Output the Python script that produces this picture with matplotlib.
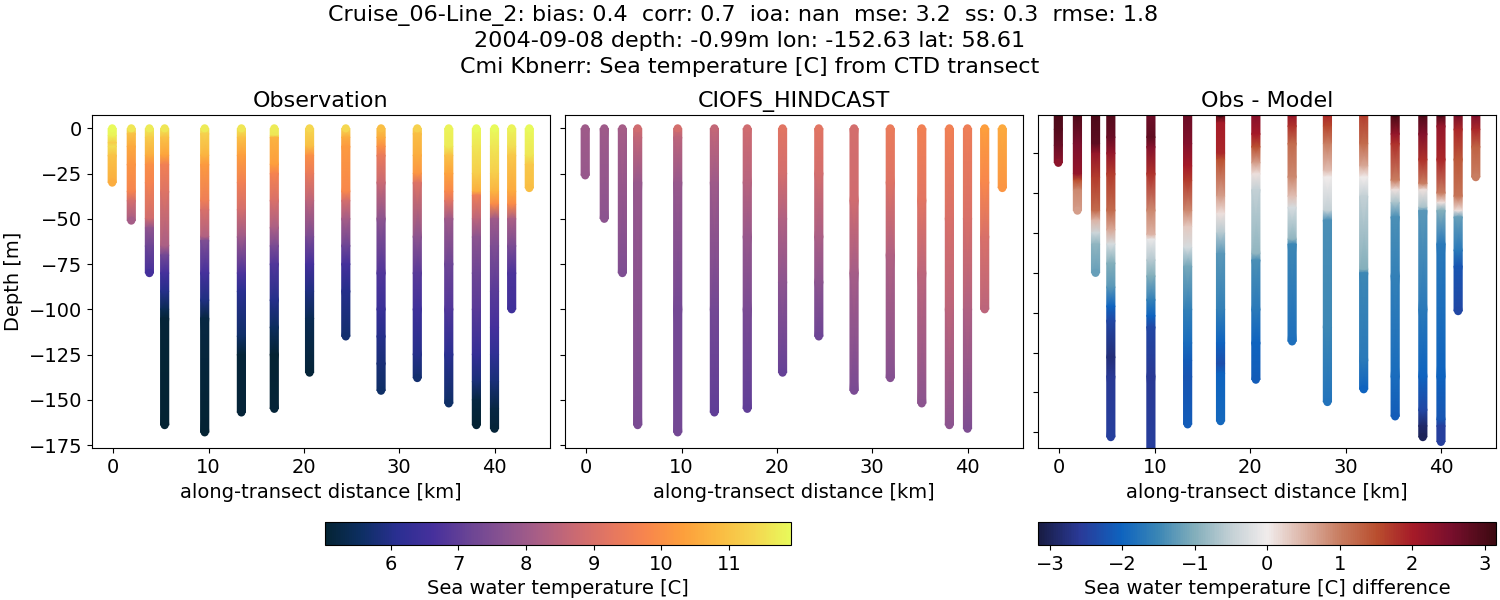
import numpy as np
import matplotlib
matplotlib.use("Agg")
from matplotlib import pyplot as plt
from matplotlib.colors import LinearSegmentedColormap, Normalize
from matplotlib.cm import ScalarMappable

# station positions along the transect [km]
station_km = [-0.1, 1.9, 3.8, 5.4, 9.6, 13.45, 16.9, 20.6, 24.4, 28.1, 31.9, 35.2, 38.1, 40.0, 41.8, 43.65]

# observation, one list per station
obs_depth = [
    [0, -4, -8, -10, -15, -30],
    [0, -3, -10, -20, -35, -40, -51],
    [0, -5, -15, -20, -30, -50, -55, -65, -80],
    [0, -5, -15, -20, -35, -65, -70, -80, -90, -100, -105, -164],
    [0, -3, -15, -20, -40, -45, -60, -62, -80, -95, -105, -168],
    [0, -5, -15, -30, -45, -60, -80, -90, -115, -125, -157],
    [0, -4, -5, -20, -25, -40, -55, -65, -75, -95, -110, -125, -155],
    [0, -10, -15, -25, -40, -60, -75, -90, -105, -135],
    [0, -5, -10, -35, -40, -50, -65, -75, -90, -115],
    [0, -5, -10, -15, -30, -50, -80, -100, -115, -130, -145],
    [0, -3, -15, -25, -30, -60, -80, -100, -125, -138],
    [0, -10, -15, -25, -35, -40, -50, -75, -100, -125, -152],
    [0, -10, -25, -35, -37, -50, -60, -80, -100, -125, -140, -150, -164],
    [0, -10, -25, -35, -42, -50, -65, -90, -110, -125, -140, -155, -166],
    [0, -10, -15, -35, -42, -50, -65, -80, -100],
    [0, -15, -20, -33],
]
obs_temp = [
    [11.9, 11.8, 11.2, 11.5, 11.0, 10.6],
    [11.6, 11.0, 10.5, 10.1, 9.7, 8.9, 8.1],
    [11.7, 11.2, 10.6, 10.0, 9.7, 8.8, 7.8, 7.2, 6.6],
    [11.6, 11.0, 10.4, 9.6, 9.1, 8.2, 7.3, 6.6, 6.0, 5.4, 5.1, 5.0],
    [11.7, 11.3, 10.7, 10.2, 9.5, 9.0, 8.3, 7.5, 6.6, 5.9, 5.2, 5.0],
    [11.6, 11.0, 10.3, 9.6, 8.9, 8.0, 6.7, 6.1, 5.6, 5.1, 5.1],
    [11.7, 11.6, 10.7, 10.3, 9.7, 9.0, 8.2, 7.4, 6.8, 6.0, 5.5, 5.05, 5.1],
    [11.4, 10.9, 10.0, 9.4, 8.5, 7.4, 6.6, 5.9, 5.4, 5.1],
    [11.4, 10.6, 10.2, 9.8, 8.9, 8.1, 7.2, 6.6, 6.0, 5.7],
    [10.9, 10.6, 10.0, 9.4, 8.7, 7.7, 6.8, 6.4, 6.0, 5.8, 5.6],
    [11.3, 10.9, 10.6, 10.1, 9.1, 7.7, 6.9, 6.5, 6.0, 5.7],
    [11.8, 11.7, 11.0, 10.4, 9.8, 9.2, 8.0, 7.2, 6.8, 6.1, 5.6],
    [11.9, 11.6, 11.2, 10.6, 9.5, 8.5, 7.7, 7.2, 6.9, 6.3, 5.8, 5.2, 5.0],
    [11.9, 11.6, 11.2, 10.7, 9.9, 8.0, 7.5, 6.9, 6.6, 6.2, 5.8, 5.2, 5.1],
    [11.8, 11.5, 11.1, 10.5, 9.9, 8.2, 7.4, 6.7, 6.5],
    [11.9, 11.6, 11.1, 10.9],
]

# model
model_depth = [
    [0, -26],
    [0, -50],
    [0, -80],
    [0, -5, -30, -164],
    [0, -5, -30, -100, -168],
    [0, -30, -100, -157],
    [0, -30, -60, -100, -155],
    [0, -25, -50, -85, -135],
    [0, -25, -60, -85, -115],
    [0, -40, -80, -145],
    [0, -30, -70, -138],
    [0, -40, -80, -152],
    [0, -50, -100, -164],
    [0, -50, -100, -166],
    [0, -30, -60, -100],
    [0, -33],
]
model_temp = [
    [8.0, 7.9],
    [8.0, 7.7],
    [8.1, 7.5],
    [8.8, 8.6, 7.9, 7.4],
    [8.9, 8.5, 7.9, 7.3, 7.3],
    [8.6, 8.0, 7.3, 7.0],
    [8.8, 8.4, 7.9, 7.4, 7.0],
    [9.2, 8.9, 8.3, 7.7, 7.1],
    [9.2, 8.9, 8.2, 7.7, 7.2],
    [8.9, 8.8, 8.1, 7.4],
    [9.4, 9.1, 8.3, 7.6],
    [9.6, 9.2, 8.5, 7.7],
    [9.6, 9.0, 8.5, 7.7],
    [9.5, 9.0, 8.3, 7.5],
    [10.3, 9.8, 9.0, 8.5],
    [10.5, 10.1],
]

# difference
diff_depth = [
    [0, -10, -20, -31],
    [0, -19, -38, -42, -48, -61],
    [0, -19, -25, -40, -61, -67, -75, -82, -100],
    [0, -15, -25, -38, -61, -73, -82, -94, -109, -121, -130, -153, -165, -203],
    [0, -15, -21, -38, -61, -76, -79, -92, -102, -117, -127, -134, -165, -215],
    [0, -19, -33, -42, -61, -71, -84, -96, -123, -144, -155, -165, -195],
    [0, -6, -25, -29, -52, -63, -75, -88, -123, -144, -157, -163, -193],
    [0, -13, -21, -31, -38, -48, -88, -92, -123, -144, -167],
    [0, -8, -19, -40, -52, -59, -79, -82, -143],
    [0, -8, -19, -36, -40, -61, -67, -134, -181],
    [0, -19, -33, -40, -52, -98, -100, -155, -173],
    [0, -13, -19, -42, -48, -56, -65, -102, -165, -190],
    [0, -13, -29, -44, -48, -59, -61, -123, -165, -186, -196, -203],
    [0, -8, -29, -50, -56, -61, -82, -165, -192, -196, -206],
    [0, -10, -29, -52, -61, -65, -86, -96, -124],
    [0, -10, -21, -40],
]
diff_temp = [
    [3.0, 2.9, 2.7, 2.3],
    [3.0, 2.5, 2.2, 1.5, 0.9, 0.7],
    [3.0, 2.8, 2.2, 1.7, 1.2, 0.5, -0.4, -0.9, -1.2],
    [2.9, 2.7, 2.2, 1.7, 1.2, 0.6, -0.3, -1.0, -1.3, -2.0, -2.4, -2.8, -2.6, -2.5],
    [2.6, 2.8, 2.4, 1.8, 0.9, 0.5, -0.1, -0.6, -1.0, -1.6, -2.0, -2.4, -2.6, -2.5],
    [2.7, 2.4, 2.0, 1.7, 0.9, 0.3, -0.3, -1.1, -1.6, -1.9, -2.1, -2.2, -2.1],
    [3.1, 2.0, 1.9, 1.5, 0.7, 0.1, -0.6, -1.3, -1.6, -2.0, -2.3, -2.0, -1.95],
    [2.4, 2.0, 1.5, 0.7, 0.1, -0.5, -0.9, -1.4, -1.7, -2.0, -2.1],
    [2.2, 1.8, 1.2, 0.9, 0.4, -0.3, -0.9, -1.5, -1.85],
    [1.9, 1.6, 1.0, 0.4, 0.0, -0.5, -1.4, -1.5, -1.8],
    [1.7, 1.2, 0.6, 0.0, -0.5, -1.0, -1.5, -1.7, -2.0],
    [3.1, 2.2, 1.8, 1.0, 0.1, -0.7, -1.4, -1.6, -1.9, -2.1],
    [3.0, 2.4, 1.8, 1.0, 0.1, -0.7, -1.3, -1.7, -2.0, -2.4, -2.9, -3.0],
    [3.0, 2.2, 1.9, 1.0, 0.1, -1.0, -1.7, -2.0, -2.2, -2.5, -2.5],
    [2.6, 1.9, 1.4, 1.1, 0.1, -1.2, -1.7, -2.2, -2.4],
    [2.5, 1.9, 1.3, 1.0],
]

# stand-ins for cmocean thermal and balance
thermal = LinearSegmentedColormap.from_list("thermal", [
    "#042333", "#0d2f63", "#2a2f92", "#46309c", "#6a4495", "#8a5390", "#ab5f85",
    "#cb6a72", "#e57760", "#f8864c", "#fd9f3c", "#fabb42", "#f5d650", "#e8fa5b"])
balance = LinearSegmentedColormap.from_list("balance", [
    (0.0, "#181c43"), (0.09, "#2a3a98"), (0.18, "#0e63bf"), (0.26, "#3a86b5"),
    (0.34, "#82aebb"), (0.42, "#c3d0d5"), (0.5, "#f1ecec"), (0.58, "#dcb3a5"),
    (0.66, "#c87c60"), (0.74, "#b94e2e"), (0.82, "#a51a28"), (0.9, "#7a0f2d"),
    (1.0, "#3c0911")])

temp_norm = Normalize(5.03, 11.92)
diff_norm = Normalize(-3.16, 3.16)

W, H = 1500, 600
fontsize = 14


def px_axes(left, right, top, bottom):
    return fig.add_axes([left / W, 1 - bottom / H, (right - left) / W, (bottom - top) / H])


def draw_stations(ax, depths, values, cmap, norm):
    for km, d, v in zip(station_km, depths, values):
        d = np.array(d, dtype=float)
        v = np.array(v, dtype=float)
        xx = np.column_stack([np.full(len(d), km - 0.43), np.full(len(d), km + 0.43)])
        yy = np.column_stack([d, d])
        cc = np.column_stack([v, v])
        ax.pcolormesh(xx, yy, cc, shading="gouraud", cmap=cmap, norm=norm)
        # round ends of each cast
        ax.scatter(np.full(2, km), d[[0, -1]], c=v[[0, -1]], s=34, linewidths=0, cmap=cmap, norm=norm)


fig = plt.figure(figsize=(15, 6), dpi=100)

ax1 = px_axes(92.2, 549.8, 115.3, 448.3)
ax2 = px_axes(565.2, 1022.8, 115.3, 448.3)
ax3 = px_axes(1038.3, 1496.3, 115.3, 448.3)

draw_stations(ax1, obs_depth, obs_temp, thermal, temp_norm)
draw_stations(ax2, model_depth, model_temp, thermal, temp_norm)
draw_stations(ax3, diff_depth, diff_temp, balance, diff_norm)

for ax, title in zip([ax1, ax2, ax3], ["Observation", "CIOFS_HINDCAST", "Obs - Model"]):
    ax.set_title(title, fontsize=16)
    ax.set_xlim(-2.2, 45.8)
    ax.set_xticks([0, 10, 20, 30, 40])
    ax.set_xlabel("along-transect distance [km]", fontsize=fontsize)
    ax.tick_params(labelsize=fontsize)

for ax in [ax1, ax2]:
    ax.set_ylim(-176.8, 7.2)
    ax.set_yticks([0, -25, -50, -75, -100, -125, -150, -175])
ax3.set_ylim(-210, -1.2)
ax3.set_yticks([-25, -50, -75, -100, -125, -150, -175, -200])
ax2.tick_params(labelleft=False)
ax3.tick_params(labelleft=False)
ax1.set_ylabel("Depth [m]", fontsize=fontsize)

cax1 = px_axes(325, 791, 522, 545)
cb1 = fig.colorbar(ScalarMappable(norm=temp_norm, cmap=thermal), cax=cax1, orientation="horizontal")
cb1.set_label("Sea water temperature [C]", fontsize=fontsize)
cb1.ax.tick_params(labelsize=fontsize)

cax2 = px_axes(1038.3, 1496.3, 522, 545)
cb2 = fig.colorbar(ScalarMappable(norm=diff_norm, cmap=balance), cax=cax2, orientation="horizontal")
cb2.set_label("Sea water temperature [C] difference", fontsize=fontsize)
cb2.ax.tick_params(labelsize=fontsize)

fig.text(0.5, 0.992,
         "Cruise_06-Line_2: bias: 0.4  corr: 0.7  ioa: nan  mse: 3.2  ss: 0.3  rmse: 1.8  \n"
         "2004-09-08 depth: -0.99m lon: -152.63 lat: 58.61\n"
         "Cmi Kbnerr: Sea temperature [C] from CTD transect",
         ha="center", va="top", fontsize=16, linespacing=1.35)

fig.savefig("out.png", dpi=100)
